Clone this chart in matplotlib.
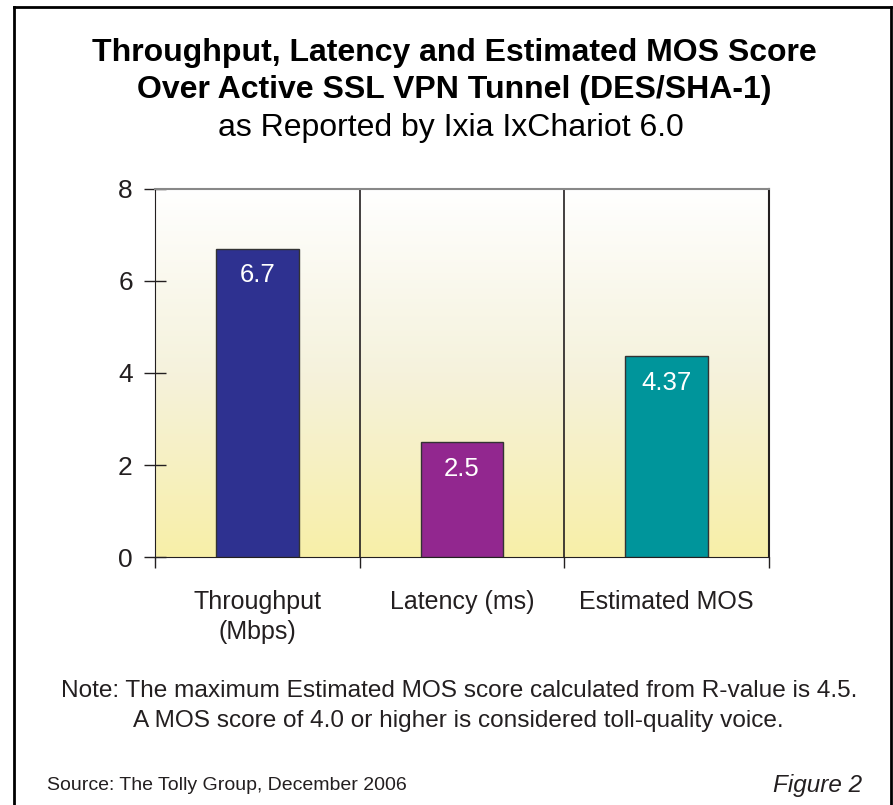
import matplotlib
matplotlib.use("Agg")
import matplotlib.pyplot as plt
import numpy as np
from matplotlib.lines import Line2D

categories = ["Throughput\n(Mbps)", "Latency (ms)", "Estimated MOS"]
values = [6.7, 2.5, 4.37]
value_labels = ["6.7", "2.5", "4.37"]
colors = ["#2E3190", "#92278F", "#00959B"]
yticks = [0, 2, 4, 6, 8]

plt.rcParams['font.family'] = ['Liberation Sans', 'DejaVu Sans']

W, H = 893, 805
fig = plt.figure(figsize=(W / 100, H / 100), dpi=100)
fig.patch.set_facecolor("white")

def fx(x):
    return x / W

def fy(y):
    return 1 - y / H

TXT = "#231F20"

# frame
for xs, ys in [([14, 14], [7, 810]), ([14, 891], [7, 7]), ([891, 891], [7, 810])]:
    fig.add_artist(Line2D([fx(v) for v in xs], [fy(v) for v in ys], color="black", lw=2.0))

# titles
fig.text(fx(454), fy(53), "Throughput, Latency and Estimated MOS Score", ha="center", va="center",
         fontsize=23, fontweight="bold", color="black")
fig.text(fx(454), fy(90), "Over Active SSL VPN Tunnel (DES/SHA-1)", ha="center", va="center",
         fontsize=23, fontweight="bold", color="black")
fig.text(fx(451), fy(128), "as Reported by Ixia IxChariot 6.0", ha="center", va="center",
         fontsize=23, color="black")

left, top, right, bottom = 155, 189, 769, 557
ax = fig.add_axes([fx(left), fy(bottom), fx(right - left), (bottom - top) / H])

x = np.arange(len(categories))
ax.set_xlim(-0.5, len(categories) - 0.5)
ax.set_ylim(0, 8)

# gradient background (bottom -> top)
stops = np.array([0.0, 0.5, 1.0])
cols = np.array([[0xF8, 0xEF, 0xA8], [0xF5, 0xF2, 0xDC], [0xFF, 0xFF, 0xFF]]) / 255
t = np.linspace(0, 1, 256)
img = np.stack([np.interp(t, stops, cols[:, k]) for k in range(3)], axis=1)[:, None, :]
ax.imshow(img, extent=[-0.5, len(categories) - 0.5, 0, 8], origin="lower", aspect="auto", zorder=0)

ax.bar(x, values, width=0.405, color=colors, edgecolor="#333333", linewidth=1.0, zorder=3)
for xi, v, lab in zip(x, values, value_labels):
    ax.text(xi, v - 0.58, lab, ha="center", va="center", color="white", fontsize=18.5, zorder=4)

for b in np.arange(0.5, len(categories) - 0.5, 1):
    ax.axvline(b, color=TXT, lw=1.2, zorder=2)

ax.spines["top"].set_color("#888888")
ax.spines["top"].set_linewidth(1.5)
ax.spines["right"].set_color(TXT)
ax.spines["right"].set_linewidth(1.5)
ax.spines["left"].set_color(TXT)
ax.spines["bottom"].set_color(TXT)

ax.set_yticks(yticks)
ax.set_yticklabels([str(t) for t in yticks], fontsize=19, color=TXT)
ax.tick_params(axis="y", direction="inout", length=16, width=1, pad=8, color=TXT)

ax.set_xticks(x)
ax.set_xticklabels(categories, fontsize=18, color=TXT, linespacing=1.35, va="top")
ax.tick_params(axis="x", which="major", length=0, pad=23.5)
ax.set_xticks(np.arange(-0.5, len(categories), 1), minor=True)
ax.tick_params(axis="x", which="minor", direction="out", length=8, width=1, color=TXT)

# notes
fig.text(fx(459), fy(691), "Note: The maximum Estimated MOS score calculated from R-value is 4.5.",
         ha="center", va="center", fontsize=17.6, color=TXT)
fig.text(fx(458), fy(721), "A MOS score of 4.0 or higher is considered toll-quality voice.",
         ha="center", va="center", fontsize=17.6, color=TXT)

fig.text(fx(47), fy(785), "Source: The Tolly Group, December 2006", ha="left", va="center",
         fontsize=14, color=TXT)
fig.text(fx(862), fy(785), "Figure 2", ha="right", va="center", fontsize=17.5, style="italic",
         color=TXT)

fig.savefig("out.png", dpi=100)
